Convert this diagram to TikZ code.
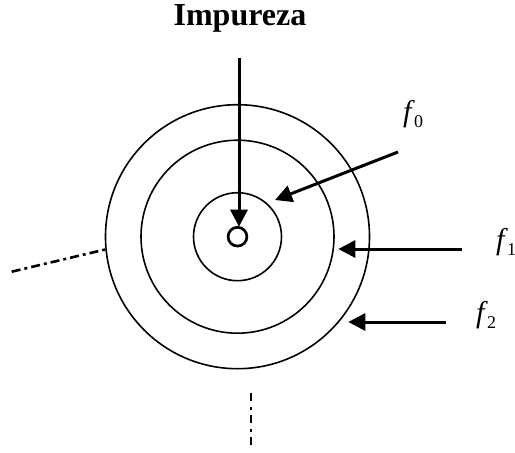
\documentclass[tikz,border=0pt]{standalone}
\usepackage{fontspec}
\setmainfont{Liberation Serif}
\usetikzlibrary{arrows.meta}
\tikzset{
  ring/.style={draw, circle, line width=1.6pt, inner sep=0pt, outer sep=0pt},
  arr/.style={line width=3pt, -{Triangle[length=17pt,width=17pt]}},
  dashleft/.style={line width=2.6pt, dash pattern=on 9pt off 4pt on 3pt off 4pt},
  dashbottom/.style={line width=2.6pt, dash pattern=on 8pt off 5.5pt on 3pt off 5.5pt},
  lbl/.style={inner sep=0pt, anchor=base west, font=\fontsize{30}{30}\selectfont\itshape},
  title/.style={inner sep=0pt, anchor=base, font=\fontsize{32}{32}\selectfont\bfseries}
}
\newcommand{\subs}[1]{\kern2.5pt\raisebox{-6pt}{\fontsize{18}{18}\selectfont\upshape #1}}
\begin{document}
\begin{tikzpicture}[x=1pt,y=-1pt]
\useasboundingbox (0,0) rectangle (515,453);
\coordinate (C) at (237.5,236.7);
% circles
\node[ring, minimum size=264pt] (outer) at (C) {};
\node[ring, minimum size=193pt] (middle) at (C) {};
\node[ring, minimum size=88pt] (inner) at (C) {};
\node[draw, circle, line width=2.7pt, inner sep=0pt, outer sep=0pt, minimum size=18.8pt, fill=white] (dot) at (C) {};
% title
\node[title] (imp) at (240,25) {Impureza};
% vertical arrow
\coordinate (vtop) at (239,58);
\coordinate (vtip) at (239,226.7);
\draw[arr] (vtop) -- (vtip);
% f0 arrow
\coordinate (s0) at (398,152);
\coordinate (t0) at (275,200);
\draw[arr] (s0) -- (t0);
% f1 arrow
\coordinate (s1) at (461.7,249);
\coordinate (t1) at (338.3,249);
\draw[arr] (s1) -- (t1);
% f2 arrow
\coordinate (s2) at (445.7,322);
\coordinate (t2) at (348.3,322);
\draw[arr] (s2) -- (t2);
% labels
\node[lbl] (f0) at (403,121) {f\subs{0}};
\node[lbl] (f1) at (496,249.5) {f\subs{1}};
\node[lbl] (f2) at (476,322.5) {f\subs{2}};
% dash-dot lines
\coordinate (la) at (11.7,271.7);
\coordinate (lb) at (106,249.3);
\draw[dashleft] (la) -- (lb);
\coordinate (ba) at (251,393.3);
\coordinate (bb) at (251,445);
\draw[dashbottom] (ba) -- (bb);
\end{tikzpicture}
\end{document}
